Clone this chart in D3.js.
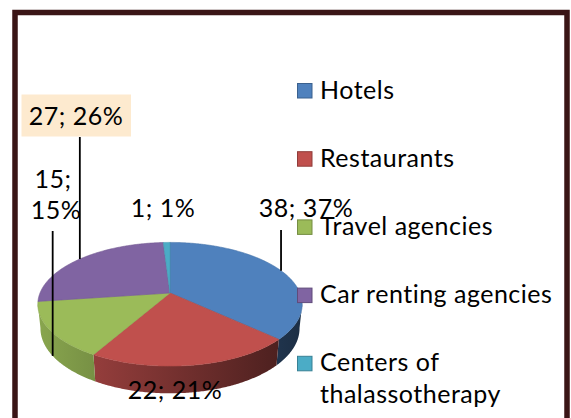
<!DOCTYPE html>
<html><head><meta charset="utf-8">
<script src="https://cdn.jsdelivr.net/npm/d3@7"></script>
<style>body{margin:0;background:#fff}svg{display:block}text{font-family:Lato,"Open Sans",sans-serif;letter-spacing:0.5px}</style>
</head><body>
<svg id="c" width="571" height="418"></svg>
<script>
const categories = ["Hotels","Restaurants","Travel agencies","Car renting agencies","Centers of thalassotherapy"];
const values = [38,22,15,27,1];
const percents = ["37%","21%","15%","26%","1%"];
const colors = ["#4f81bd","#c0504d","#9bbb59","#8064a2","#4bacc6"];

const svg = d3.select("#c");
// frame
svg.append("rect").attr("x",15).attr("y",12.5).attr("width",552).attr("height",480)
  .attr("fill","#fff").attr("stroke","#3a1516").attr("stroke-width",5.5);

// 3D perspective pie
const cx=170, cy=293, K=130, sA=0.46, cA=Math.sqrt(1-sA*sA), Dd=4.875, Hh=0.21;
function proj(theta, lvl){
  const x=Math.sin(theta), z=-Math.cos(theta), h=lvl*Hh;
  const yy = z*sA + h*cA, dz = z*cA - h*sA;
  const sc = Dd/(Dd-dz);
  return [cx+K*x*sc, cy+K*yy*sc];
}
const pie = d3.pie().sort(null).value(d=>d)(values);
const defs = svg.append("defs");
pie.forEach((p,i)=>{
  const c = d3.rgb(colors[i]);
  const g = defs.append("linearGradient").attr("id","side"+i).attr("gradientUnits","userSpaceOnUse")
    .attr("x1",cx-K).attr("x2",cx+K).attr("y1",0).attr("y2",0);
  g.append("stop").attr("offset","0").attr("stop-color",d3.rgb(c.r*0.88,c.g*0.88,c.b*0.88));
  g.append("stop").attr("offset","1").attr("stop-color",d3.rgb(c.r*0.36,c.g*0.36,c.b*0.36));
});
const line = d3.line();
const vis0 = Math.PI*100/180, vis1 = Math.PI*260/180;
const sides = svg.append("g"), tops = svg.append("g");
pie.forEach((p,i)=>{
  const a0=Math.max(p.startAngle,vis0), a1=Math.min(p.endAngle,vis1);
  if(a1>a0){
    const n=Math.max(2,Math.ceil((a1-a0)/0.01));
    const up=d3.range(n+1).map(k=>proj(a0+(a1-a0)*k/n,0));
    const dn=d3.range(n+1).map(k=>proj(a1-(a1-a0)*k/n,1));
    sides.append("path").attr("d",line(up.concat(dn))+"Z").attr("fill","url(#side"+i+")");
  }
  const n=Math.max(2,Math.ceil((p.endAngle-p.startAngle)/0.01));
  const pts=[[cx,cy]].concat(d3.range(n+1).map(k=>proj(p.startAngle+(p.endAngle-p.startAngle)*k/n,0)));
  tops.append("path").attr("d",line(pts)+"Z").attr("fill",colors[i])
    .attr("stroke",d3.rgb(colors[i]).darker(0.3)).attr("stroke-width",0.6).attr("stroke-linejoin","round");
});

// legend
const fs = 25;
const lg = svg.append("g");
categories.forEach((name,i)=>{
  const y0 = 83 + i*68.2;
  lg.append("rect").attr("x",297.5).attr("y",y0+0.5).attr("width",14.5).attr("height",14.5)
    .attr("fill",colors[i]).attr("stroke",d3.rgb(colors[i]).darker(0.8)).attr("stroke-width",1);
  const words = name==="Centers of thalassotherapy" ? ["Centers of","thalassotherapy"] : [name];
  const t = lg.append("text").attr("x",320).attr("y",y0+15.5).attr("font-size",fs).attr("fill","#000");
  words.forEach((w,j)=>t.append("tspan").attr("x",320).attr("dy",j?31.5:0).text(w));
});

// data labels + leader lines
const mid = p => (p.startAngle+p.endAngle)/2;
const lab = svg.append("g").attr("font-size",fs).attr("fill","#000").attr("text-anchor","middle");
const labelPos = [
  {x:306, y:216.5, lineTop:230, lvl:0},
  {x:175, y:399},
  {x:55, y:188, two:true, lineTop:231, lvl:1},
  {x:76, y:125, box:true, lineTop:137, lvl:0},
  {x:163, y:216.5}
];
pie.forEach((p,i)=>{
  const L = labelPos[i];
  if(L.lineTop!==undefined){
    const q = proj(mid(p), L.lvl);
    svg.append("line").attr("x1",q[0]).attr("x2",q[0]).attr("y1",L.lineTop).attr("y2",q[1])
      .attr("stroke","#000").attr("stroke-width",1.8);
  }
  if(L.box){
    svg.insert("rect","g").attr("x",21.5).attr("y",94.5).attr("width",109.5).attr("height",42).attr("fill","#fdeacf");
  }
  const t = lab.append("text").attr("x",L.x).attr("y",L.y);
  if(L.two){
    t.append("tspan").attr("x",L.x-2).text(values[i]+";");
    t.append("tspan").attr("x",L.x+1).attr("dy",31).text(percents[i]);
  } else t.text(values[i]+"; "+percents[i]);
});
</script>
</body></html>
